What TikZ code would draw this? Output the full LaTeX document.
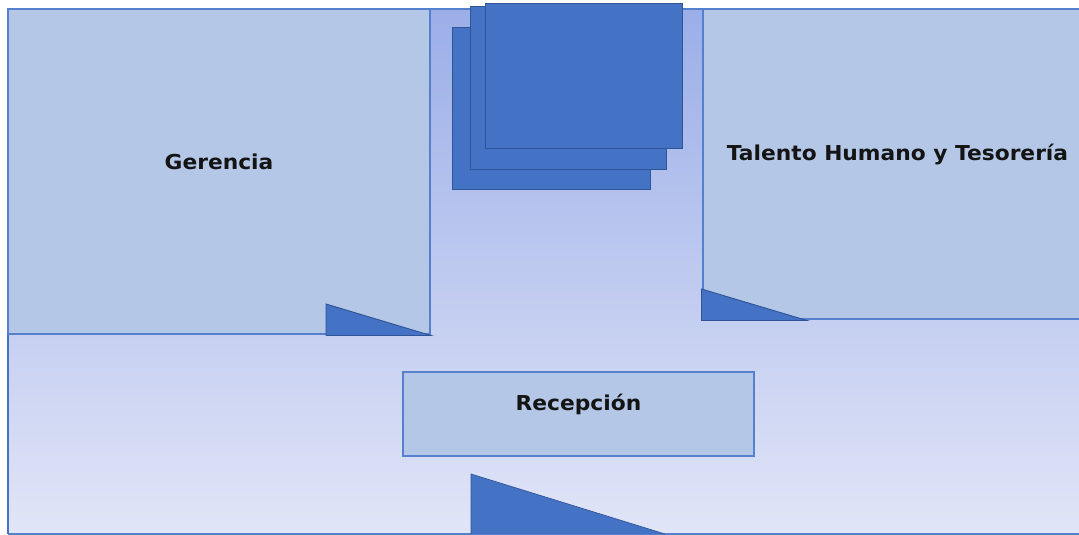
\documentclass[tikz,border=0pt]{standalone}
\usepackage{fontspec}
\setmainfont{DejaVu Sans}
\definecolor{roomfill}{HTML}{B4C7E7}
\definecolor{roomline}{HTML}{5580CE}
\definecolor{solidblue}{HTML}{4472C4}
\definecolor{solidline}{HTML}{2F5597}
\definecolor{floortop}{HTML}{9BAEE8}
\definecolor{floorbot}{HTML}{E1E5F7}
\definecolor{edgeblue}{HTML}{4472C4}
\tikzset{
  room/.style={fill=roomfill,draw=roomline,line width=1pt},
  solid block/.style={fill=solidblue,draw=solidline,line width=0.7pt},
  label text/.style={font=\bfseries\fontsize{15.4pt}{18pt}\selectfont,text=black!92,inner sep=0pt,anchor=center,xscale=1.06}
}
\begin{document}
\begin{tikzpicture}[x=0.75pt,y=-0.75pt]
\useasboundingbox (0,0) rectangle (1079,535);
\fill[white] (0,0) rectangle (1079,535);
% floor
\shade[top color=floortop,bottom color=floorbot] (8,9) rectangle (1079,534);
\draw[roomline,line width=1pt] (8,9) -- (1079,9);
\draw[roomline,line width=1pt] (8,534) -- (1079,534);
\draw[edgeblue,line width=1.2pt] (8,9) -- (8,534);
% rooms
\draw[room] (8,9) rectangle (430,334);
\draw[room] (703,9) rectangle (1081,319);
\draw[room] (403,372) rectangle (754,456);
% stacked sheets
\draw[solid block] (452.5,27.5) rectangle (650.5,189.5);
\draw[solid block] (470,6.5) rectangle (666,169);
\draw[solid block] (485,3) rectangle (682,148);
% doors
\draw[solid block] (326,304) -- (326,335.5) -- (431,335.5) -- cycle;
\draw[solid block] (701.5,289) -- (701.5,320.5) -- (807,320.5) -- cycle;
\fill[solidblue] (471,474) -- (471,534) -- (665,534) -- cycle;
\draw[solidline,line width=0.5pt] (665,534) -- (471,474) -- (471,534);
% labels
\node[label text] (gerencia) at (219,162) {Gerencia};
\node[label text] (talento) at (897.5,154.5) {Talento Humano y Tesorería};
\node[label text] (recepcion) at (578.5,404.5) {Recepción};
\end{tikzpicture}
\end{document}
